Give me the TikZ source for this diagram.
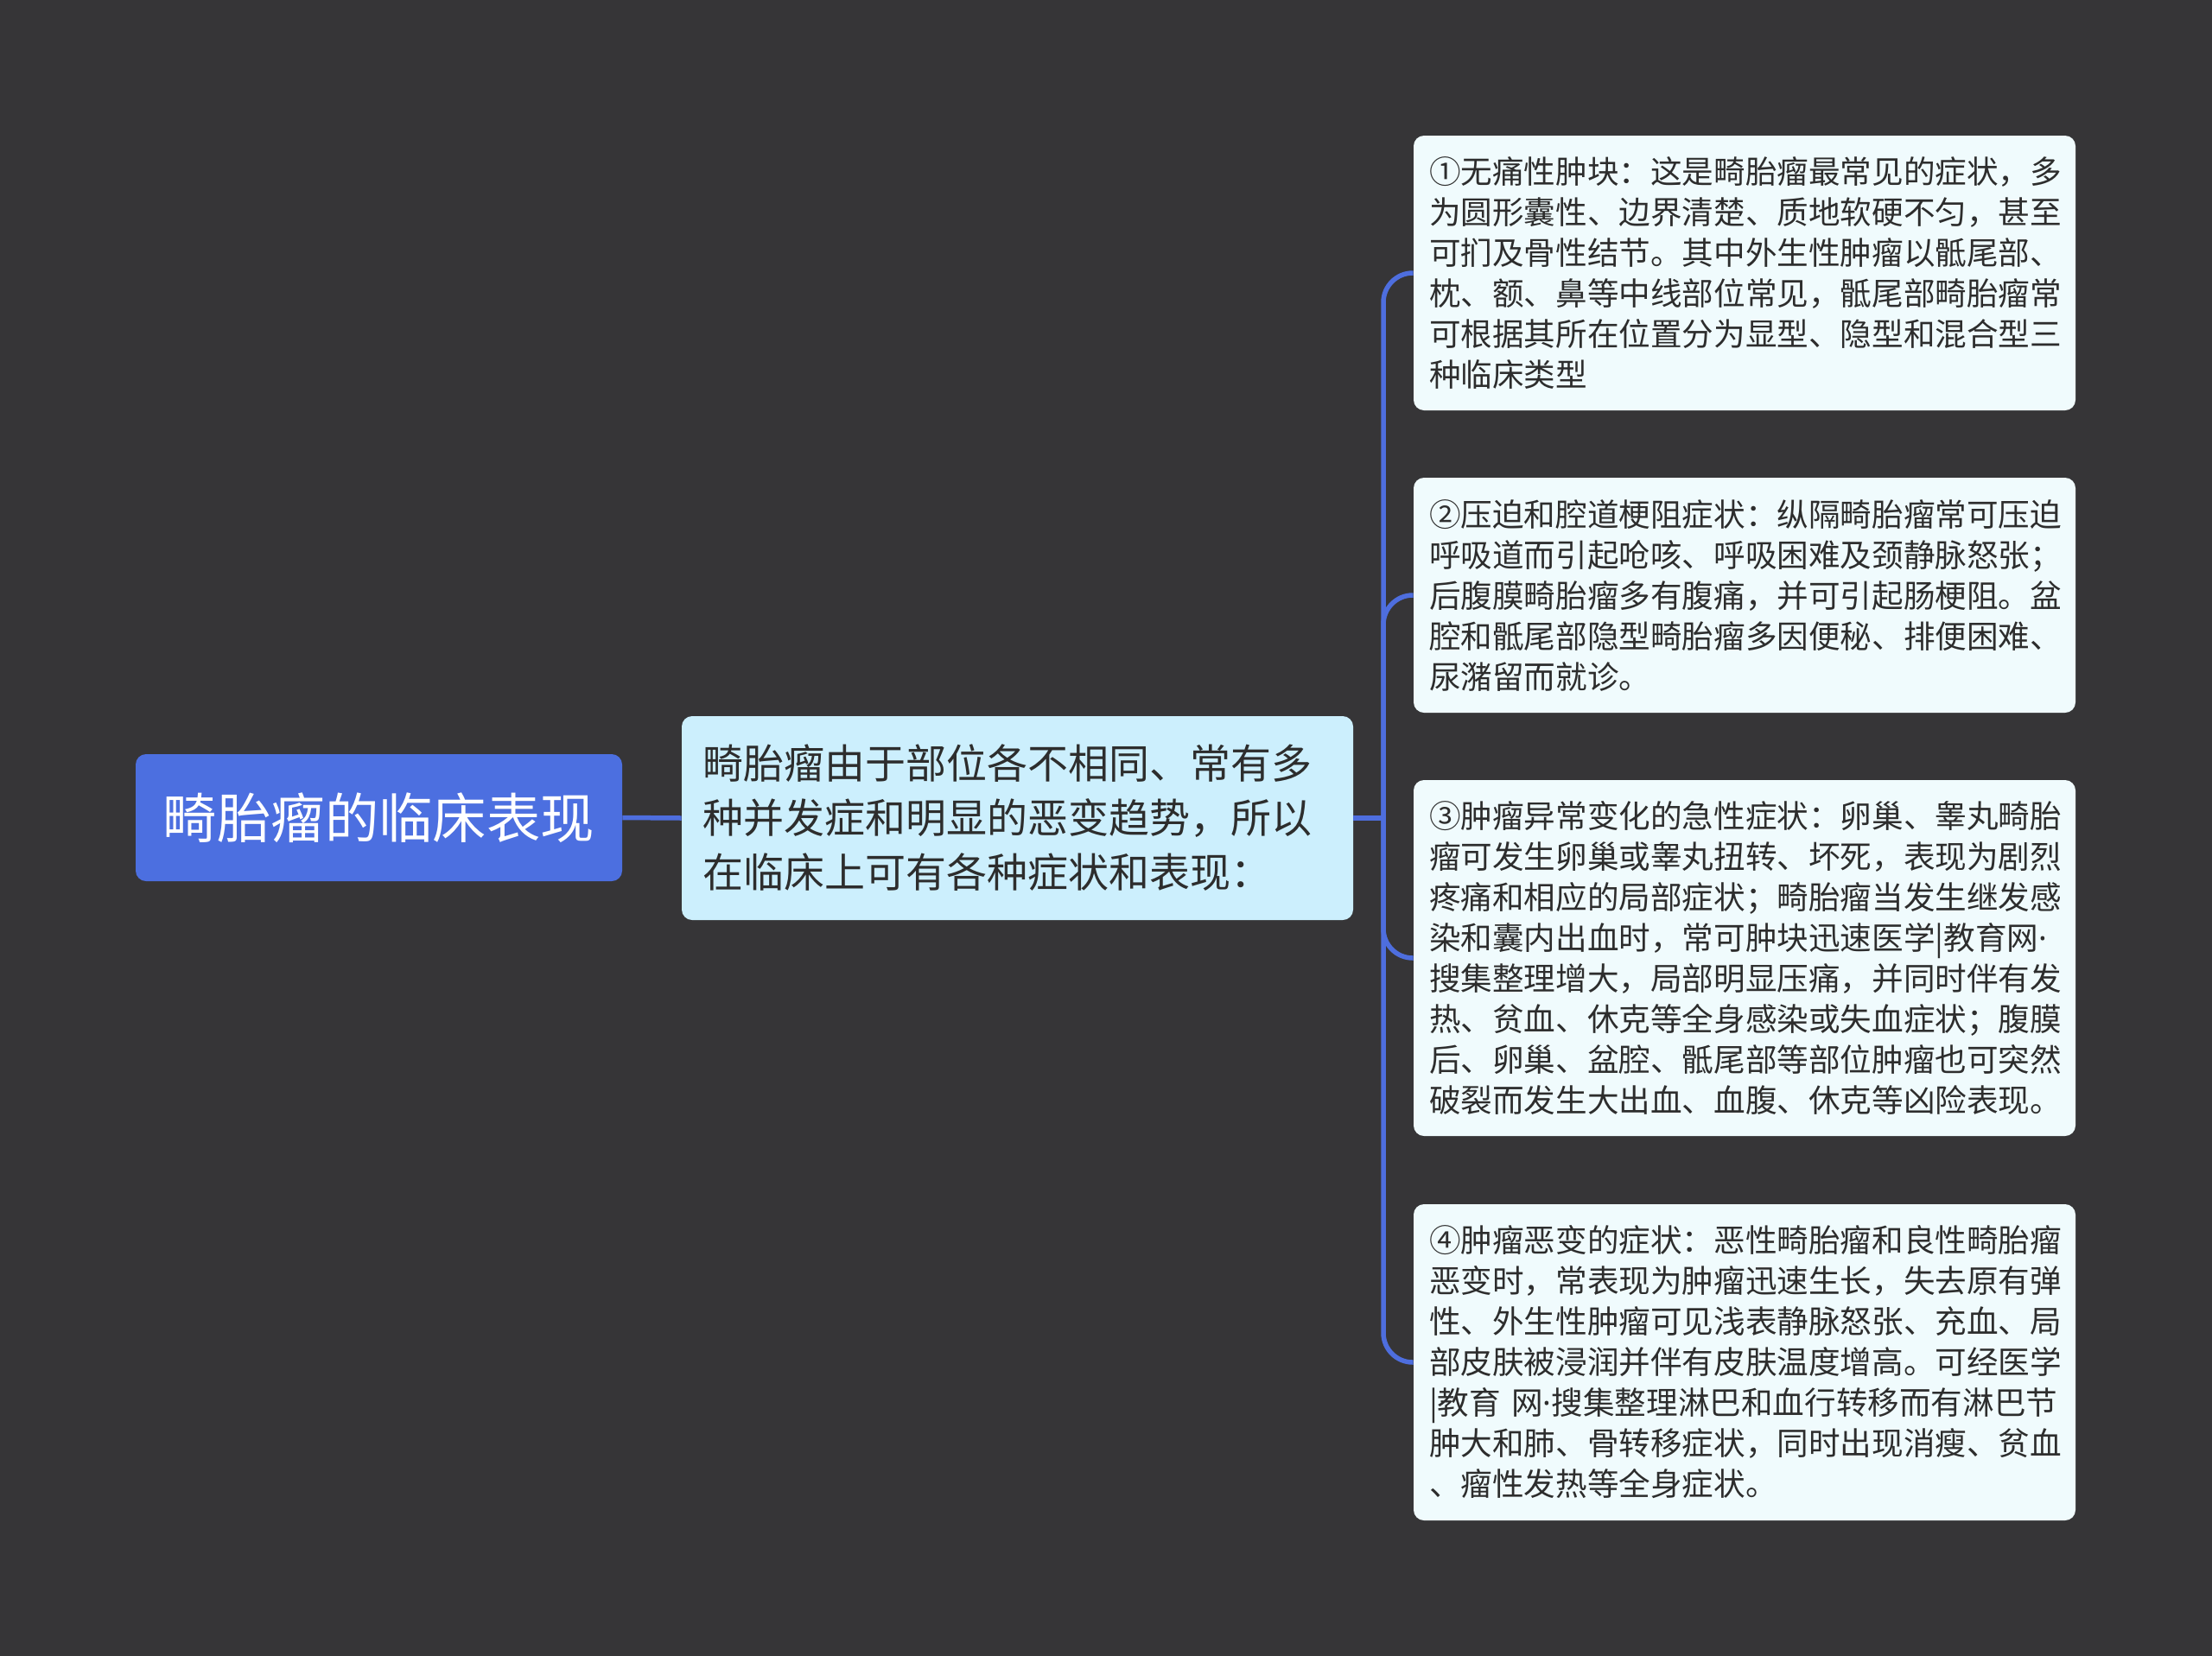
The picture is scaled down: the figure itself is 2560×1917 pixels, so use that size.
\documentclass[tikz,border=0pt]{standalone}
\usepackage{fontspec}
\newfontfamily\cjk{Noto Sans CJK SC}
\newfontfamily\latn{Noto Sans}
\newcommand{\mdot}{{\latn ·}}
\definecolor{bg}{RGB}{54,53,55}
\definecolor{rootblue}{RGB}{76,111,224}
\definecolor{linkblue}{RGB}{78,110,222}
\definecolor{midfill}{RGB}{204,239,253}
\definecolor{leaffill}{RGB}{240,251,253}
\definecolor{txt}{RGB}{45,45,45}
\begin{document}
\begin{tikzpicture}[x=0.5pt,y=-0.5pt,
  rootbox/.style={fill=rootblue,rounded corners=6pt,minimum width=281.5pt,minimum height=73.5pt,
    text=white,font=\cjk\fontsize{31.2pt}{38pt}\selectfont,inner sep=0pt},
  midbox/.style={fill=midfill,rounded corners=6pt,minimum width=388.5pt,minimum height=118pt,
    text=txt,font=\cjk\fontsize{23.5pt}{31.5pt}\selectfont,align=left,text width=364.5pt,inner xsep=12pt,inner ysep=0pt},
  leafbox/.style={fill=leaffill,rounded corners=6pt,minimum width=383pt,
    text=txt,font=\cjk\fontsize{18.3pt}{23.5pt}\selectfont,align=left,text width=365pt,inner xsep=9pt,inner ysep=0pt},
  conn/.style={draw=linkblue,line width=2.75pt}
]
\fill[bg] (0,0) rectangle (2560,1917);
\useasboundingbox (0,0) rectangle (2560,1917);

\node[rootbox] (root) at (438.5,946.5) {畸胎瘤的临床表现};
\node[midbox] (mid) at (1177.5,947) {畸胎瘤由于部位各不相同、常有多\\种并发症和明显的恶变趋势，所以\\在临床上可有各种症状和表现：};

\node[leafbox,minimum height=159pt] (l1) at (2019,316) {①无痛性肿块：这是畸胎瘤最常见的症状，多\\为圆形囊性、边界清楚、质地软硬不匀，甚至\\可扪及骨性结节。其中外生性肿瘤以骶尾部、\\枕、额、鼻等中线部位常见，骶尾部畸胎瘤常\\可根据其所在位置分为显型、隐型和混合型三\\种临床类型};
\node[leafbox,minimum height=136pt] (l2) at (2019,689) {②压迫和腔道梗阻症状：纵隔畸胎瘤常可压迫\\呼吸道而引起呛咳、呼吸困难及颈静脉怒张；\\后腹膜畸胎瘤多有腹痛，并可引起肠梗阻。盆\\腔和骶尾部隐型畸胎瘤多因便秘、排便困难、\\尿潴留而就诊。};
\node[leafbox,minimum height=206pt] (l3) at (2019,1109) {③肿瘤异常变化的急性症状：卵巢、睾丸畸胎\\瘤可发生卵巢或睾丸扭转、坏死，表现为剧烈\\疼痛和相应的局部症状；畸胎瘤当发生继发感\\染和囊内出血时，常可肿块迅速医学|教育网\mdot\\搜集整理增大，局部明显压痛，并同时伴有发\\热、贫血、休克等全身感染或失血症状；腹膜\\后、卵巢、盆腔、骶尾部等部位肿瘤也可突然\\破裂而发生大出血、血腹、休克等凶险表现。};
\node[leafbox,minimum height=183pt] (l4) at (2019,1577) {④肿瘤恶变的症状：恶性畸胎瘤和良性畸胎瘤\\恶变时，常表现为肿瘤迅速生长，失去原有弹\\性、外生性肿瘤可见浅表静脉怒张、充血、局\\部皮肤被浸润并伴有皮肤温度增高。可经医学\\|教育 网\mdot 搜集整理淋巴和血行转移而有淋巴节\\肿大和肺、骨转移症状，同时出现消瘦、贫血\\、瘤性发热等全身症状。};

\coordinate (j) at (1601,947);
\draw[conn] (root.east) -- (mid.west);
\draw[conn] (mid.east) -- (j);
\draw[conn,rounded corners=17pt] (j) |- (l1.west);
\draw[conn,rounded corners=17pt] (j) |- (l2.west);
\draw[conn,rounded corners=17pt] (j) |- (l3.west);
\draw[conn,rounded corners=17pt] (j) |- (l4.west);
\end{tikzpicture}
\end{document}
